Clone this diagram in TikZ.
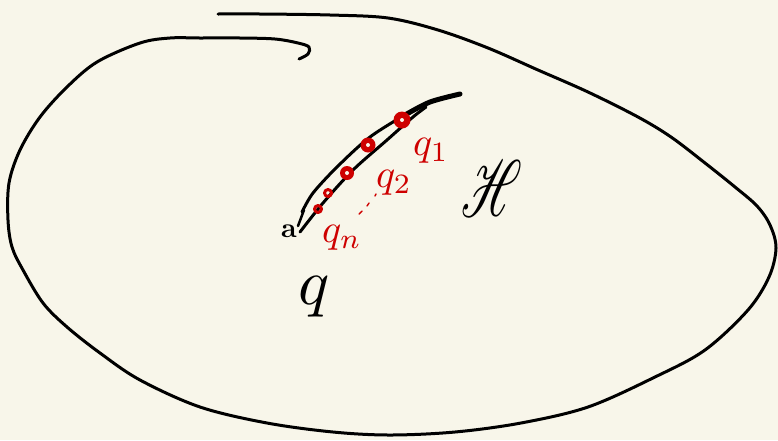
\documentclass[tikz,border=0pt]{standalone}
\usepackage{amsmath,amssymb}
\usepackage{mathrsfs}
\usepackage{xcolor}
\usepackage{tikz}
\usetikzlibrary{calc}
\definecolor{paper}{RGB}{248,246,234}
\definecolor{ink}{RGB}{206,0,0}
\tikzset{
  qlabel/.style={text=ink,inner sep=0pt,font=\fontsize{10}{10}\selectfont,scale=4},
  qmark/.style={draw=ink,line width=2.8pt},
}

\begin{document}
\begin{tikzpicture}[x=1pt,y=-1pt,line join=round,line cap=round]
  \fill[paper] (0,0) rectangle (778,440);
  \useasboundingbox (0,0) rectangle (778,440);
  % the big region
  \draw[line width=3pt] plot[smooth,tension=0.55] coordinates {
    (299,59) (308,54) (309,47) (298,43) (275,39) (240,38) (200,38) (170,38)
    (140,43) (97,62) (67,87) (40,117) (20,150) (9,183) (8,220) (12,247)
    (23,270) (43,303) (67,327) (100,353) (140,380) (200,407) (267,423)
    (333,432) (390,435) (455,432) (521,423) (588,407) (655,377) (705,350)
    (748,310) (769,277) (776,248) (770,225) (757,206) (735,187) (705,163)
    (671,137) (638,117) (588,92) (538,70) (488,48) (438,30) (388,18)
    (330,15) (260,14) (218,14)};
  % the curve and its points
  \coordinate (A) at (300,232);
  \coordinate (B) at (460,94);
  \coordinate (Q1) at (402,120);
  \coordinate (Q2) at (368,145);
  \coordinate (Q3) at (347,173);
  \coordinate (Q4) at (328,193);
  \coordinate (Q5) at (318,209);
  \draw[line width=3pt] plot[smooth] coordinates {
    (302,212) (313,193) (337,167) (370,137) (410,112) (435,100) (B)};
  \draw[line width=5pt] plot[smooth] coordinates {(405,115) (430,102) (B)};
  \draw[line width=3pt] plot[smooth] coordinates {
    (A) (323,203) (353,170) (387,140) (413,117) (426,107)};
  \draw[line width=2.5pt] (304,210) -- (298,226);
  \node[inner sep=0pt,font=\fontsize{10}{10}\selectfont\bfseries,scale=2.8] (a) at (289,231) {a};
  \fill[ink] (Q1) circle (8.5);
  \fill[paper] (Q1) circle (2);
  \fill[ink] (Q2) circle (7.5);
  \fill[paper] (Q2) circle (2);
  \fill[ink] (Q3) circle (7);
  \fill[paper] (Q3) circle (2);
  \draw[qmark,line width=3pt] (Q4) circle (3.5);
  \draw[qmark,line width=3pt] (Q5) circle (3.5);
  \node[qlabel] (q1) at (431,151) {$q_1$};
  \node[qlabel] (q2) at (394,183) {$q_2$};
  \node[qlabel] (qn) at (342,238) {$q_n$};
  \draw[ink,line width=1.4pt] (376,194) -- (375,196) (369,203) -- (367,206)
    (362,211) -- (359,214);
  \node[inner sep=0pt,font=\fontsize{10}{10}\selectfont,xscale=4.8,yscale=8] (H) at (492,188) {$\mathscr{H}$};
  \node[inner sep=0pt,anchor=base,font=\fontsize{10}{10}\selectfont,scale=6.5] (q) at (314,304) {$q$};
\end{tikzpicture}
\end{document}
